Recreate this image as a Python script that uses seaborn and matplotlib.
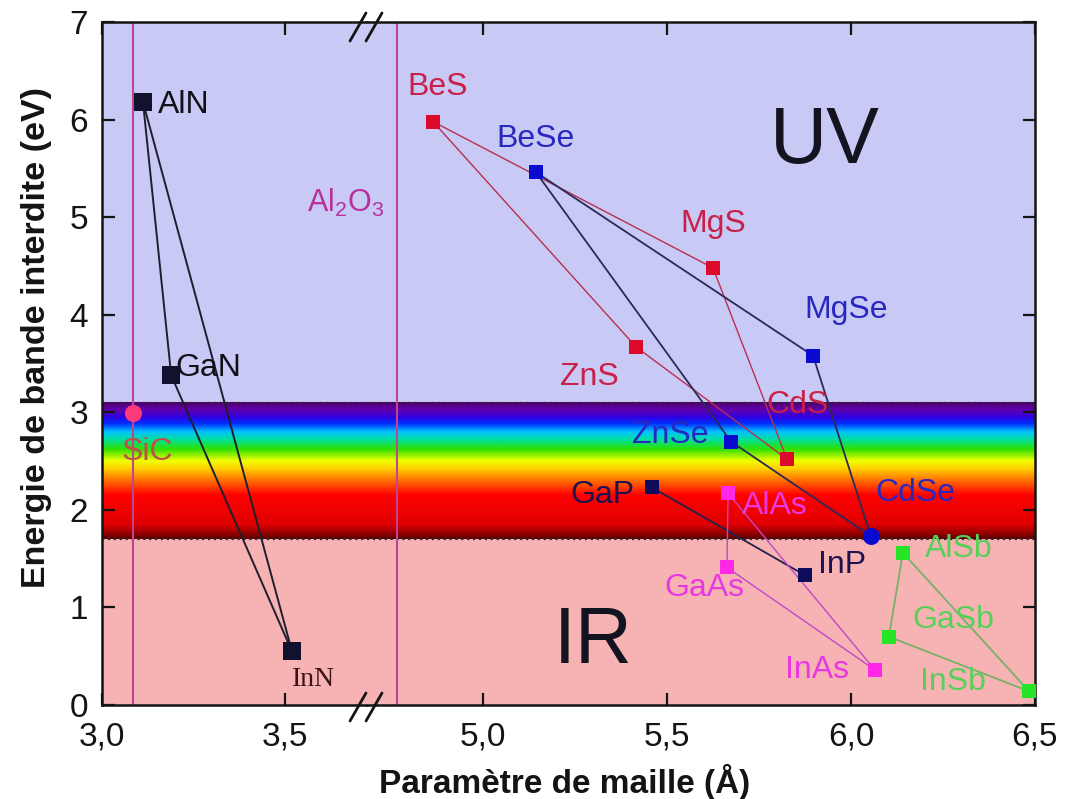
import numpy as np
import pandas as pd
import matplotlib
matplotlib.use("Agg")
import matplotlib.pyplot as plt
from matplotlib.colors import LinearSegmentedColormap
from matplotlib.lines import Line2D
import seaborn as sns

# lattice parameter (A) and band gap (eV) of each compound
compounds = ["AlN", "GaN", "InN", "SiC", "BeS", "BeSe", "MgS", "ZnS", "MgSe", "ZnSe",
             "CdS", "CdSe", "GaP", "InP", "AlAs", "GaAs", "InAs", "AlSb", "GaSb", "InSb"]
lattice = [3.112, 3.189, 3.519, 3.085, 4.864, 5.144, 5.625, 5.416, 5.897, 5.674,
           5.826, 6.054, 5.459, 5.875, 5.666, 5.663, 6.065, 6.141, 6.103, 6.484]
gap = [6.18, 3.38, 0.55, 2.99, 5.98, 5.46, 4.48, 3.67, 3.58, 2.70,
       2.52, 1.73, 2.23, 1.33, 2.17, 1.41, 0.36, 1.56, 0.70, 0.14]
family = ["N", "N", "N", "SiC", "S", "Se", "S", "S", "Se", "Se",
          "S", "Se", "P", "P", "As", "As", "As", "Sb", "Sb", "Sb"]

# alloy lines between binaries
edges = [("AlN", "GaN"), ("GaN", "InN"), ("AlN", "InN"),
         ("BeS", "MgS"), ("MgS", "CdS"), ("CdS", "ZnS"), ("ZnS", "BeS"),
         ("BeSe", "MgSe"), ("MgSe", "CdSe"), ("CdSe", "ZnSe"), ("ZnSe", "BeSe"),
         ("GaP", "InP"),
         ("AlAs", "GaAs"), ("GaAs", "InAs"), ("AlAs", "InAs"),
         ("AlSb", "GaSb"), ("GaSb", "InSb"), ("AlSb", "InSb")]

# substrates (vertical lines)
substrates = ["SiC", "Al$_2$O$_3$"]
substrate_a = [3.085, 4.766]

# visible spectrum band
uv_limit = 3.1
ir_limit = 1.7
band_energy = [1.70, 1.75, 1.85, 2.15, 2.30, 2.42, 2.50, 2.62, 2.72, 2.80, 2.88, 2.95, 3.02, 3.10]
band_colors = ["#5a0000", "#900000", "#e00000", "#ff0000", "#ff7000", "#ffd000", "#f0ff00",
               "#30e000", "#00e0a0", "#00c0ff", "#0030ff", "#3000e0", "#6000b0", "#500070"]

xticks_left = [3.0, 3.5]
xticks_right = [5.0, 5.5, 6.0, 6.5]
yticks = [0, 1, 2, 3, 4, 5, 6, 7]

df = pd.DataFrame({"name": compounds, "a": lattice, "eg": gap, "fam": family})

# styles
pt_color = {"N": "#12122e", "SiC": "#ff3a78", "S": "#dc0a2a", "Se": "#0a0ad0",
            "P": "#0c0c5a", "As": "#ff28e6", "Sb": "#28e428"}
ln_color = {"N": "#1e1e30", "S": "#b83050", "Se": "#2a2a58", "P": "#22224e",
            "As": "#c048c8", "Sb": "#78b068"}
ln_width = {"N": 1.4, "S": 1.0, "Se": 1.3, "P": 1.3, "As": 1.0, "Sb": 1.3}
lb_color = {"N": "#101018", "SiC": "#c0504c", "S": "#c82048", "Se": "#2828c0",
            "P": "#1c1250", "As": "#e838e0", "Sb": "#58d058"}
# label offsets in pixels (dx, dy)
lb_off = {"AlN": (41, -3), "GaN": (37, 7), "InN": (22, -28), "SiC": (14, -39),
          "BeS": (5, 35), "BeSe": (0, 33), "MgS": (0, 44), "MgSe": (33, 46),
          "ZnS": (-47, -30), "CdS": (11, 54), "ZnSe": (-61, 7), "GaP": (-49, -8),
          "AlAs": (47, -13), "CdSe": (45, 43), "InP": (37, 10), "GaAs": (-23, -21),
          "InAs": (-58, 0), "AlSb": (56, 4), "GaSb": (64, 17), "InSb": (-76, 9)}

sns.set_theme(style="ticks")
plt.rcParams["font.family"] = ["Liberation Sans", "DejaVu Sans"]
plt.rcParams["mathtext.fontset"] = "custom"
plt.rcParams["mathtext.rm"] = "Liberation Sans"
plt.rcParams["mathtext.it"] = "Liberation Sans"

W, H = 1065, 799
fig = plt.figure(figsize=(W / 100, H / 100), dpi=100)
gs = fig.add_gridspec(1, 2, width_ratios=[265, 668], left=102 / W, right=1035 / W,
                      bottom=1 - 705 / H, top=1 - 22 / H, wspace=0)
ax_l = fig.add_subplot(gs[0])
ax_r = fig.add_subplot(gs[1], sharey=ax_l)
xlims = {ax_l: (3.0, 3.724), ax_r: (4.685, 6.5)}

pos = [(e - band_energy[0]) / (band_energy[-1] - band_energy[0]) for e in band_energy]
band_cmap = LinearSegmentedColormap.from_list("band", list(zip(pos, band_colors)))
grad = np.linspace(0, 1, 256).reshape(-1, 1)

for ax in (ax_l, ax_r):
    x0, x1 = xlims[ax]
    ax.axhspan(uv_limit, 7, color="#c9c9f5", zorder=0, lw=0)
    ax.axhspan(0, ir_limit, color="#f7b3b3", zorder=0, lw=0)
    ax.imshow(grad, extent=[x0, x1, ir_limit, uv_limit], aspect="auto", cmap=band_cmap,
              origin="lower", zorder=0.5)
    ax.axhline(uv_limit, ls=":", color="#302030", lw=1.6, zorder=0.6)
    ax.axhline(ir_limit, ls=":", color="#302030", lw=1.6, zorder=0.6)
    ax.set_xlim(x0, x1)
    ax.set_ylim(0, 7)

for name, a in zip(substrates, substrate_a):
    ax = ax_l if a < 3.9 else ax_r
    ax.axvline(a, color="#c04590", lw=1.5, zorder=1)
ax_r.text(4.766 - 0.035, 5.15, substrates[1], color="#b8309a",
          fontsize=22, ha="right", va="center", zorder=4)

lookup = df.set_index("name")
for p, q in edges:
    fam = lookup.loc[p, "fam"]
    ax = ax_l if lookup.loc[p, "a"] < 3.9 else ax_r
    sns.lineplot(x=[lookup.loc[p, "a"], lookup.loc[q, "a"]],
                 y=[lookup.loc[p, "eg"], lookup.loc[q, "eg"]],
                 ax=ax, sort=False, estimator=None, color=ln_color[fam],
                 lw=ln_width[fam], zorder=2)

for _, row in df.iterrows():
    ax = ax_l if row["a"] < 3.9 else ax_r
    marker, size = "s", 90
    if row["fam"] == "N":
        size = 170
    if row["name"] in ("CdSe", "SiC"):
        marker, size = "o", 150
    sns.scatterplot(x=[row["a"]], y=[row["eg"]], ax=ax, marker=marker, s=size,
                    color=pt_color[row["fam"]], linewidth=0, zorder=3,
                    legend=False, clip_on=False)
    dx, dy = lb_off[row["name"]]
    col = "#3a1414" if row["name"] == "InN" else lb_color[row["fam"]]
    fam_font = ["Liberation Serif"] if row["name"] == "InN" else ["Liberation Sans", "DejaVu Sans"]
    fs = 20 if row["name"] == "InN" else 23
    ax.annotate(row["name"], (row["a"], row["eg"]), xytext=(dx, dy),
                textcoords="offset pixels", ha="center", va="center",
                color=col, fontsize=fs, family=fam_font, zorder=4)

ax_r.text(5.93, 5.76, "UV", fontsize=57, color="#141420", ha="center", va="center", zorder=4)
ax_r.text(5.30, 0.64, "IR", fontsize=57, color="#141420", ha="center", va="center", zorder=4)

fmt = lambda v: f"{v:.1f}".replace(".", ",")
for ax, ticks in ((ax_l, xticks_left), (ax_r, xticks_right)):
    ax.set_xticks(ticks)
    ax.set_xticklabels([fmt(t) for t in ticks])
    ax.set_xlabel("")
    ax.set_ylabel("")
    for s in ax.spines.values():
        s.set_linewidth(1.8)
        s.set_color("#141414")
    ax.tick_params(axis="both", direction="in", length=9, width=1.6, labelsize=24,
                   colors="#141414", pad=12)
    ax.tick_params(axis="x", top=True, bottom=True)

ax_l.set_yticks(yticks)
ax_l.set_yticklabels([str(t) for t in yticks])
ax_l.spines["right"].set_visible(False)
ax_l.tick_params(axis="y", left=True, right=False, pad=10)
ax_r.spines["left"].set_visible(False)
ax_r.tick_params(axis="y", left=False, right=True, labelleft=False)

# break marks
bx = 367
for ytop in (13, 693):
    for off in (0, 16):
        fig.add_artist(Line2D([(bx - 17 + off) / W, (bx - 1 + off) / W],
                              [1 - (ytop + 28) / H, 1 - ytop / H],
                              transform=fig.transFigure, color="#141414", lw=2))

fig.text(565 / W, 1 - 782 / H, "Paramètre de maille (Å)", fontsize=24,
         fontweight="bold", ha="center", va="center", color="#141414")
fig.text(37 / W, 1 - 337 / H, "Energie de bande interdite (eV)", fontsize=24.5,
         fontweight="bold", rotation=90, ha="center", va="center", color="#141414")

fig.savefig("out.png", dpi=100)
